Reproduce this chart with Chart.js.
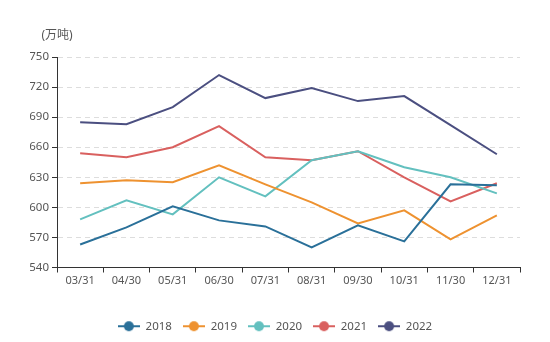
<!DOCTYPE html>
<html>
<head>
<meta charset="utf-8">
<script src="https://cdn.jsdelivr.net/npm/chart.js@4/dist/chart.umd.min.js"></script>
<style>
  html, body { margin: 0; padding: 0; background: #fff; }
  #wrap { width: 550px; height: 342px; }
</style>
</head>
<body>
<div id="wrap"><canvas id="chart"></canvas></div>
<script>
  // Datos
  const categories = ["03/31", "04/30", "05/31", "06/30", "07/31", "08/31", "09/30", "10/31", "11/30", "12/31"];
  const yTicks = [540, 570, 600, 630, 660, 690, 720, 750];
  const years = ["2018", "2019", "2020", "2021", "2022"];
  const s2018 = [563, 580, 601, 587, 581, 560, 582, 566, 623, 622];
  const s2019 = [624, 627, 625, 642, 623, 605, 584, 597, 568, 592];
  const s2020 = [588, 607, 593, 630, 611, 647, 656, 640, 630, 614];
  const s2021 = [654, 650, 660, 681, 650, 647, 656, 630, 606, 624];
  const s2022 = [685, 683, 700, 732, 709, 719, 706, 711, 682, 653];
  const colors = ["#2a7099", "#ee9230", "#63c0bf", "#d9605f", "#4b4f80"];
  const unitLabel = "(万吨)";

  const FONT = "'Noto Sans', 'Noto Sans CJK SC', sans-serif";

  // marcador de leyenda: línea + círculo
  const legendMarker = (color) => {
    const c = document.createElement("canvas");
    c.width = 22;
    c.height = 12;
    const g = c.getContext("2d");
    g.strokeStyle = color;
    g.lineWidth = 2;
    g.beginPath();
    g.moveTo(0, 6);
    g.lineTo(22, 6);
    g.stroke();
    g.fillStyle = color;
    g.beginPath();
    g.arc(11, 6, 5, 0, Math.PI * 2);
    g.fill();
    return c;
  };

  const series = [s2018, s2019, s2020, s2021, s2022];
  const datasets = years.map((y, i) => ({
    label: y,
    data: series[i],
    borderColor: colors[i],
    backgroundColor: colors[i],
    borderWidth: 2,
    pointRadius: 0,
    pointHoverRadius: 0,
    tension: 0,
    fill: false,
    pointStyle: legendMarker(colors[i]),
  }));

  // nombre del eje Y
  const unitPlugin = {
    id: "unitLabel",
    afterDraw(chart) {
      const { ctx } = chart;
      const x = chart.scales.y.right;
      ctx.save();
      ctx.font = "12px " + FONT;
      ctx.fillStyle = "#555";
      ctx.textAlign = "center";
      ctx.textBaseline = "middle";
      ctx.fillText(unitLabel, x, 36);
      ctx.restore();
    },
  };

  new Chart(document.getElementById("chart"), {
    type: "line",
    data: { labels: categories, datasets },
    plugins: [unitPlugin],
    options: {
      responsive: true,
      maintainAspectRatio: false,
      animation: false,
      layout: { padding: { top: 57, right: 30, left: 30, bottom: 0 } },
      plugins: {
        tooltip: { enabled: false },
        legend: {
          position: "bottom",
          labels: {
            usePointStyle: true,
            pointStyleWidth: 22,
            padding: 11,
            color: "#555",
            font: { size: 11.5, family: FONT },
          },
        },
      },
      scales: {
        x: {
          offset: true,
          grid: {
            offset: true,
            drawOnChartArea: false,
            drawTicks: true,
            tickLength: 5,
            color: "#333",
          },
          border: { display: true, color: "#333", width: 1 },
          ticks: {
            padding: 2,
            color: "#555",
            font: { size: 11, family: FONT },
            maxRotation: 0,
            autoSkip: false,
          },
          afterFit: (s) => { s.height = 42; },
        },
        y: {
          min: yTicks[0],
          max: yTicks[yTicks.length - 1],
          afterBuildTicks: (s) => { s.ticks = yTicks.map((v) => ({ value: v })); },
          grid: {
            color: "#dddddd",
            tickColor: "#333",
            tickLength: 5,
            tickBorderDash: [],
          },
          border: { display: true, color: "#333", width: 1, dash: [5, 4] },
          ticks: {
            padding: 3,
            color: "#555",
            font: { size: 11.5, family: FONT },
          },
          afterFit: (s) => { s.width = 27; },
        },
      },
    },
  });
</script>
</body>
</html>
